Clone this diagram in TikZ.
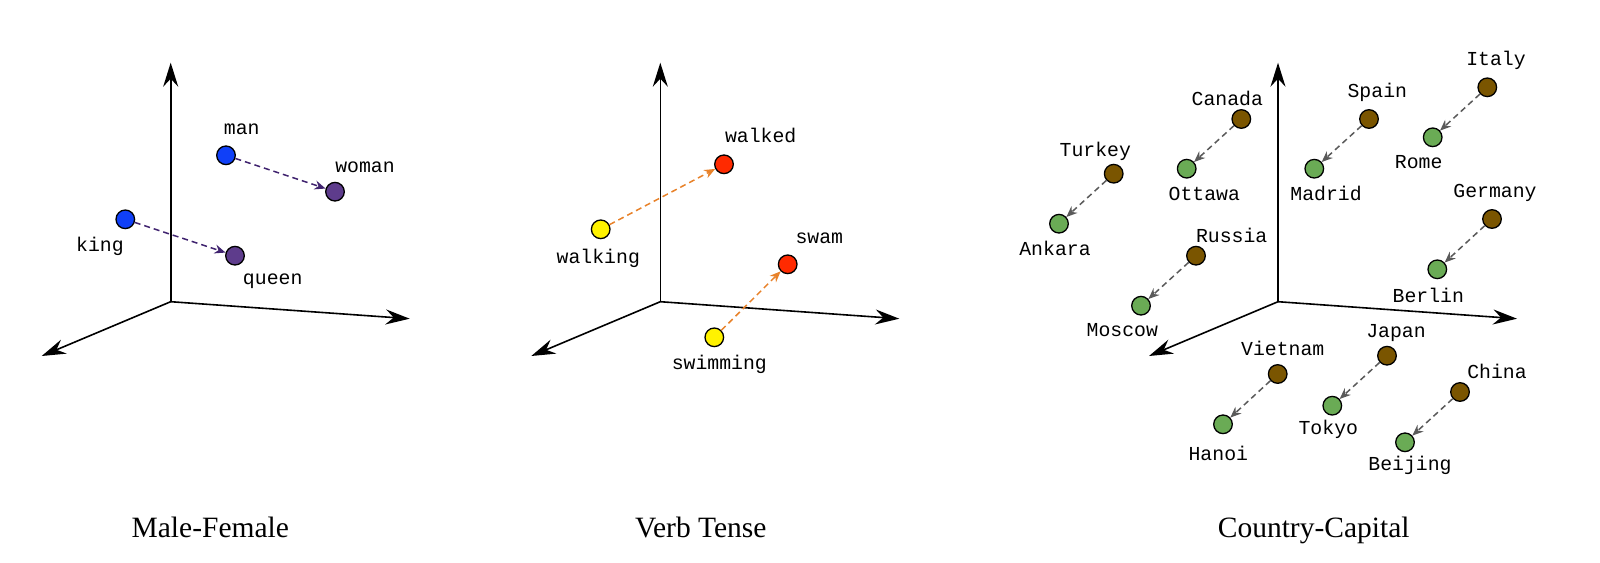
\documentclass[tikz,border=0pt]{standalone}
\usepackage{fontspec}
\setmainfont{Liberation Serif}
\setmonofont{Liberation Mono}
\usetikzlibrary{arrows.meta}
\definecolor{wordblue}{HTML}{1040F8}
\definecolor{wordpurple}{HTML}{5E3C8C}
\definecolor{vecpurple}{HTML}{40236F}
\definecolor{wordyellow}{HTML}{FFF200}
\definecolor{wordred}{HTML}{FF2A00}
\definecolor{vecorange}{HTML}{E8822A}
\definecolor{wordbrown}{HTML}{7A5500}
\definecolor{wordgreen}{HTML}{6AAB55}
\definecolor{vecgray}{HTML}{5A5A5A}

\begin{document}
\begin{tikzpicture}[
  x=1pt, y=-1pt,
  dot/.style={circle, draw, line width=1.3pt, minimum size=18.6pt, inner sep=0pt},
  word/.style={font=\fontsize{19.8}{20}\ttfamily, inner sep=0pt},
  title/.style={font=\fontsize{29.5}{30}\selectfont, inner sep=0pt, anchor=base},
  axis/.style={line width=1.6pt, -{Stealth[length=24pt,width=15pt,inset=8pt]}},
  vec/.style={line width=1.5pt, dash pattern=on 6pt off 4pt, -{Stealth[length=11pt,width=9pt]}}
]
\useasboundingbox (0,0) rectangle (1600,562);

\coordinate (o1) at (170.7,301.7);
\coordinate (o2) at (660.3,301.7);
\coordinate (o3) at (1278,301.7);
\draw[axis] (o1) -- ++(0,-239);
\draw[axis] (o1) -- ++(239,17);
\draw[axis] (o1) -- ++(-129,54.3);
\draw[axis] (o2) -- ++(0,-239);
\draw[axis] (o2) -- ++(239,17);
\draw[axis] (o2) -- ++(-129,54.3);
\draw[axis] (o3) -- ++(0,-239);
\draw[axis] (o3) -- ++(239,17);
\draw[axis] (o3) -- ++(-129,54.3);

\node[dot, fill=wordblue] (man) at (226,155.3) {};
\node[dot, fill=wordpurple] (woman) at (335,191.7) {};
\node[dot, fill=wordblue] (king) at (125.3,219.3) {};
\node[dot, fill=wordpurple] (queen) at (235,255.7) {};
\node[word] (manlbl) at (241.7,129) {man};
\node[word] (womanlbl) at (365,167.3) {woman};
\node[word] (kinglbl) at (100,246) {king};
\node[word] (queenlbl) at (272.7,281.7) {queen};
\draw[vec, vecpurple] (man) -- (woman);
\draw[vec, vecpurple] (king) -- (queen);

\node[dot, fill=wordyellow] (walking) at (600.7,229.3) {};
\node[dot, fill=wordred] (walked) at (724,164.3) {};
\node[dot, fill=wordyellow] (swimming) at (714.3,337.3) {};
\node[dot, fill=wordred] (swam) at (787.7,264.3) {};
\node[word] (walkinglbl) at (598.3,258.3) {walking};
\node[word] (walkedlbl) at (760.7,135) {walked};
\node[word] (swimminglbl) at (719.3,364) {swimming};
\node[word] (swamlbl) at (819.3,238.3) {swam};
\draw[vec, vecorange] (walking) -- (walked);
\draw[vec, vecorange] (swimming) -- (swam);

\node[dot, fill=wordbrown] (canada) at (1241.3,119) {};
\node[dot, fill=wordgreen] (ottawa) at (1186.7,168.7) {};
\node[dot, fill=wordbrown] (turkey) at (1113.7,173.7) {};
\node[dot, fill=wordgreen] (ankara) at (1059,223.7) {};
\node[dot, fill=wordbrown] (spain) at (1369,119) {};
\node[dot, fill=wordgreen] (madrid) at (1314.3,168.7) {};
\node[dot, fill=wordbrown] (italy) at (1487.3,87.3) {};
\node[dot, fill=wordgreen] (rome) at (1432.7,137.3) {};
\node[dot, fill=wordbrown] (germany) at (1492,219) {};
\node[dot, fill=wordgreen] (berlin) at (1437.3,269.3) {};
\node[dot, fill=wordbrown] (russia) at (1196,255.7) {};
\node[dot, fill=wordgreen] (moscow) at (1141,305.7) {};
\node[dot, fill=wordbrown] (vietnam) at (1277.7,374) {};
\node[dot, fill=wordgreen] (hanoi) at (1223,424.3) {};
\node[dot, fill=wordbrown] (japan) at (1387,355.7) {};
\node[dot, fill=wordgreen] (tokyo) at (1332.3,405.7) {};
\node[dot, fill=wordbrown] (china) at (1460,392) {};
\node[dot, fill=wordgreen] (beijing) at (1405,442.3) {};

\node[word] (canadalbl) at (1227.3,98.3) {Canada};
\node[word] (ottawalbl) at (1204.3,194) {Ottawa};
\node[word] (turkeylbl) at (1095.3,151.3) {Turkey};
\node[word] (ankaralbl) at (1055,248.3) {Ankara};
\node[word] (spainlbl) at (1377.3,92.3) {Spain};
\node[word] (madridlbl) at (1326,193.7) {Madrid};
\node[word] (italylbl) at (1496,60.7) {Italy};
\node[word] (romelbl) at (1418.7,162.3) {Rome};
\node[word] (germanylbl) at (1495,193.3) {Germany};
\node[word] (berlinlbl) at (1428.3,295) {Berlin};
\node[word] (russialbl) at (1231.7,235) {Russia};
\node[word] (moscowlbl) at (1122.3,330) {Moscow};
\node[word] (vietnamlbl) at (1282.7,348.7) {Vietnam};
\node[word] (hanoilbl) at (1218.3,453.3) {Hanoi};
\node[word] (japanlbl) at (1396,332.7) {Japan};
\node[word] (tokyolbl) at (1328.3,429.3) {Tokyo};
\node[word] (chinalbl) at (1497,371.7) {China};
\node[word] (beijinglbl) at (1410,465) {Beijing};

\draw[vec, vecgray] (canada) -- (ottawa);
\draw[vec, vecgray] (turkey) -- (ankara);
\draw[vec, vecgray] (spain) -- (madrid);
\draw[vec, vecgray] (italy) -- (rome);
\draw[vec, vecgray] (germany) -- (berlin);
\draw[vec, vecgray] (russia) -- (moscow);
\draw[vec, vecgray] (vietnam) -- (hanoi);
\draw[vec, vecgray] (japan) -- (tokyo);
\draw[vec, vecgray] (china) -- (beijing);

\node[title] (maletitle) at (210.3,537.7) {Male-Female};
\node[title] (verbtitle) at (700.8,537.7) {Verb Tense};
\node[title] (countrytitle) at (1313.7,537.7) {Country-Capital};
\end{tikzpicture}
\end{document}
